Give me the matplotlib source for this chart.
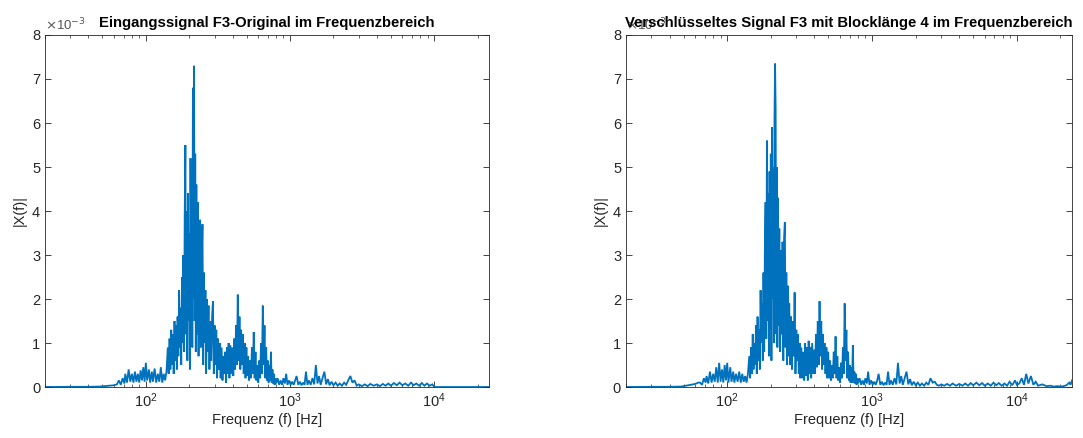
import numpy as np
import matplotlib
matplotlib.use("Agg")
import matplotlib.pyplot as plt
from matplotlib.ticker import FuncFormatter, LogLocator, NullFormatter

plt.rcParams["font.family"] = ["Liberation Sans", "DejaVu Sans"]

# FFT bins (Hz), shared by both spectra
freq_hz = [
    20, 30, 40, 48, 52, 56, 60, 63,
    65, 67, 69, 71, 72, 74, 76, 78, 80, 82, 84, 86, 88, 90, 92, 94, 96, 98,
    100, 102, 105, 107, 110, 112, 115, 118, 121, 124, 127, 130, 133, 136, 139,
    142, 144, 146, 148, 150, 152, 154, 156, 158, 160, 162, 164, 166, 168, 170,
    172, 174, 176, 178, 180, 182, 184, 186, 188, 190, 192, 194, 196, 198, 200,
    202, 204, 206, 208, 210, 212, 214, 216, 218, 220, 222, 224, 226,
    229, 232, 235, 238, 241, 244, 247, 250, 253, 256, 259, 262, 265, 268,
    272, 276, 280, 284, 288, 292, 296, 300, 304, 308, 312, 316, 320,
    325, 330, 335, 340, 345, 350, 355, 360, 365, 370, 375, 380,
    386, 392, 398, 404, 410, 416, 422, 428, 434, 440, 446, 452, 458, 464, 470,
    477, 484, 491, 498, 505, 512,
    520, 528, 536, 544, 552, 560, 568, 576,
    584, 593, 602, 611, 620, 629, 638, 647, 656, 665, 674, 683, 692, 701, 710,
    719, 728, 737, 746, 755, 764, 773, 782, 791, 800,
    820, 840, 860, 880, 900, 920, 940, 960, 985, 1010, 1035, 1060, 1085, 1110,
    1140, 1170, 1200, 1230, 1260, 1290, 1320, 1350, 1390, 1430, 1470, 1510,
    1550, 1590, 1630, 1680, 1730, 1780, 1830, 1880, 1940, 2000, 2070, 2140,
    2210, 2290, 2370, 2450, 2530, 2620, 2710, 2800, 2900, 3000,
    3150, 3300, 3450, 3600, 3800, 4000, 4200, 4400, 4600, 4800, 5000, 5250,
    5500, 5750, 6000, 6300, 6600, 6900, 7200, 7500, 7850, 8200, 8550, 8900,
    9300, 9700, 10000,
    10400, 10800, 11200, 11600, 12000, 12500, 13000, 13500, 14000, 15000,
    16000, 17000, 18000, 19000, 20000, 21000, 22000, 23000, 23500, 24000,
]

# |X(f)| of the original signal, in units of 1e-3
mag_original = [
    0, 0.005, 0.005, 0.01, 0.02, 0.03, 0.04, 0.06,
    0.15, 0.05, 0.2, 0.08, 0.3, 0.1, 0.4, 0.12, 0.3, 0.1, 0.35, 0.12, 0.3, 0.1,
    0.38, 0.15, 0.45, 0.12,
    0.55, 0.15, 0.4, 0.1, 0.35, 0.12, 0.42, 0.1, 0.3, 0.12, 0.45, 0.1, 0.3,
    0.15, 0.35,
    0.9, 0.3, 1.1, 0.4, 1.3, 0.5, 1.2, 0.3, 1.5, 0.6, 1.4, 0.4, 1.6, 0.7, 2.2,
    0.9, 1.8, 0.5, 2.5, 1.0, 3.0, 0.8, 3.9, 5.5, 1.2, 4.0, 0.6, 4.4, 1.5, 3.5,
    0.4, 5.2, 1.8, 4.5, 0.9, 6.8, 2.0, 7.3, 1.5, 5.3, 0.8, 4.6, 1.2,
    4.2, 0.7, 3.0, 3.8, 0.9, 2.8, 3.7, 0.5, 2.6, 1.0, 2.2, 0.3, 2.0, 0.8,
    1.85, 0.4, 1.5, 0.6, 1.6, 1.95, 0.3, 1.4, 0.5, 1.3, 0.2, 1.1, 0.4,
    1.0, 0.2, 0.9, 0.15, 0.7, 0.3, 0.8, 0.1, 0.9, 0.3, 1.0, 0.2,
    0.95, 0.3, 0.9, 0.25, 1.1, 0.4, 1.4, 0.5, 2.1, 0.6, 1.6, 0.4, 1.3, 0.5, 1.2,
    0.3, 1.0, 0.2, 0.9, 0.25, 0.7,
    0.15, 0.6, 0.2, 0.9, 0.3, 1.25, 0.2, 0.8,
    0.15, 0.5, 0.1, 0.6, 0.2, 1.0, 0.3, 1.85, 0.5, 1.4, 0.2, 0.9, 0.15, 0.6, 0.1,
    0.5, 0.15, 0.8, 0.1, 0.4, 0.08, 0.3, 0.05, 0.2, 0.08,
    0.2, 0.05, 0.15, 0.05, 0.2, 0.08, 0.3, 0.05, 0.15, 0.05, 0.12, 0.05, 0.15,
    0.25, 0.05, 0.12, 0.04, 0.1, 0.05, 0.35, 0.05, 0.15, 0.05, 0.2, 0.06, 0.5,
    0.08, 0.25, 0.05, 0.2, 0.35, 0.06, 0.18, 0.04, 0.12, 0.04, 0.1, 0.03,
    0.08, 0.03, 0.1, 0.05, 0.15, 0.25, 0.1, 0.15, 0.03, 0.06,
    0.02, 0.06, 0.02, 0.07, 0.03, 0.06, 0.02, 0.07, 0.03, 0.08, 0.03, 0.09,
    0.04, 0.1, 0.04, 0.08, 0.03, 0.1, 0.04, 0.08, 0.03, 0.09, 0.03, 0.08,
    0.03, 0.06, 0.0,
    0, 0, 0, 0, 0, 0, 0, 0, 0, 0,
    0, 0, 0, 0, 0, 0, 0, 0, 0, 0,
]

# |X(f)| of the encrypted signal (block length 4), in units of 1e-3
mag_encrypted = [
    0, 0.005, 0.005, 0.01, 0.03, 0.05, 0.07, 0.1,
    0.1, 0.05, 0.2, 0.1, 0.25, 0.08, 0.35, 0.1, 0.3, 0.12, 0.45, 0.1, 0.55, 0.12,
    0.4, 0.1, 0.5, 0.15,
    0.55, 0.1, 0.45, 0.12, 0.35, 0.1, 0.3, 0.12, 0.35, 0.1, 0.3, 0.12, 0.25,
    0.1, 0.3,
    0.7, 0.2, 0.9, 0.3, 1.2, 0.4, 1.0, 0.5, 1.4, 0.3, 1.6, 0.6, 1.3, 0.4, 2.2,
    1.0, 1.9, 0.6, 2.6, 0.8, 3.2, 4.2, 1.1, 5.6, 1.5, 4.4, 0.7, 4.9, 1.3, 5.3,
    0.6, 5.9, 2.0, 5.0, 1.0, 6.1, 7.35, 6.3, 1.2, 5.0, 0.9, 4.3, 1.4,
    3.6, 0.8, 3.1, 1.2, 3.3, 0.6, 3.4, 3.75, 0.9, 2.6, 0.5, 2.3, 0.7, 1.9,
    0.5, 1.6, 0.4, 1.5, 0.7, 2.15, 0.3, 1.3, 0.6, 1.2, 0.3, 1.0, 0.2,
    0.9, 0.2, 0.8, 0.15, 1.0, 0.25, 0.9, 0.15, 1.05, 0.3, 0.9, 0.2,
    1.0, 0.3, 0.85, 0.3, 1.2, 0.45, 1.5, 0.5, 1.95, 0.7, 1.5, 0.4, 1.2, 0.5, 1.0,
    0.3, 0.9, 0.2, 0.8, 0.2, 0.6,
    0.15, 0.5, 0.2, 0.8, 0.3, 1.15, 0.2, 0.7,
    0.15, 0.45, 0.1, 0.55, 0.2, 0.9, 0.3, 1.9, 0.6, 1.3, 0.2, 0.8, 0.15, 0.5, 0.1,
    0.45, 0.1, 0.95, 0.1, 0.35, 0.08, 0.3, 0.05, 0.2, 0.08,
    0.2, 0.05, 0.15, 0.05, 0.2, 0.08, 0.35, 0.05, 0.15, 0.05, 0.12, 0.05, 0.15,
    0.3, 0.05, 0.12, 0.04, 0.1, 0.05, 0.35, 0.05, 0.15, 0.05, 0.2, 0.06, 0.55,
    0.08, 0.25, 0.05, 0.2, 0.35, 0.06, 0.18, 0.04, 0.12, 0.04, 0.1, 0.03,
    0.08, 0.03, 0.1, 0.05, 0.2, 0.1, 0.12, 0.05, 0.03, 0.06,
    0.03, 0.07, 0.03, 0.08, 0.03, 0.07, 0.03, 0.08, 0.03, 0.09, 0.04, 0.1,
    0.04, 0.09, 0.03, 0.08, 0.03, 0.1, 0.04, 0.09, 0.03, 0.08, 0.03, 0.12,
    0.04, 0.15, 0.05,
    0.08, 0.2, 0.05, 0.3, 0.08, 0.25, 0.05, 0.12, 0.03, 0.06,
    0.02, 0.03, 0.01, 0.02, 0.01, 0.02, 0.04, 0.1, 0.05, 0.15,
]

assert len(freq_hz) == len(mag_original) == len(mag_encrypted), (
    len(freq_hz), len(mag_original), len(mag_encrypted))

titles = [
    "Eingangssignal F3-Original im Frequenzbereich",
    "Verschlüsseltes Signal F3 mit Blocklänge 4 im Frequenzbereich",
]
yticks = [0, 1, 2, 3, 4, 5, 6, 7, 8]

line_color = "#0072BD"
text_color = "#262626"

fig = plt.figure(figsize=(10.83, 4.38), dpi=100)
ax1 = fig.add_axes([0.0416, 0.1164, 0.41, 0.8037])
ax2 = fig.add_axes([0.578, 0.1164, 0.4118, 0.8037])

for ax, mag, title in zip([ax1, ax2], [mag_original, mag_encrypted], titles):
    ax.plot(freq_hz, np.array(mag) * 1e-3, color=line_color, lw=1.3,
            solid_joinstyle="miter")
    ax.set_xscale("log")
    ax.set_xlim(20, 24000)
    ax.set_ylim(0, 8e-3)
    ax.set_yticks([v * 1e-3 for v in yticks])
    ax.yaxis.set_major_formatter(FuncFormatter(lambda v, p: f"{v * 1e3:g}"))
    ax.xaxis.set_major_locator(LogLocator(base=10, numticks=10))
    ax.xaxis.set_minor_locator(LogLocator(base=10, subs=np.arange(2, 10), numticks=10))
    ax.xaxis.set_minor_formatter(NullFormatter())
    ax.tick_params(which="both", direction="in", top=True, right=True,
                   colors=text_color, labelsize=10.5)
    ax.tick_params(which="major", length=4, width=0.6)
    ax.tick_params(which="minor", length=2.5, width=0.5)
    for s in ax.spines.values():
        s.set_color(text_color)
        s.set_linewidth(0.6)
    ax.set_xlabel("Frequenz (f) [Hz]", fontsize=10.5, color=text_color, labelpad=2)
    ax.set_ylabel("|X(f)|", fontsize=10.5, color=text_color, labelpad=4)
    ax.set_title(title, fontsize=10.7, fontweight="bold", color="black", pad=6)
    ax.text(0.0, 1.005, r"$\times$10$^{-3}$", transform=ax.transAxes,
            fontsize=9.5, color="#555555", ha="left", va="bottom")

fig.savefig("out.png", dpi=100)
